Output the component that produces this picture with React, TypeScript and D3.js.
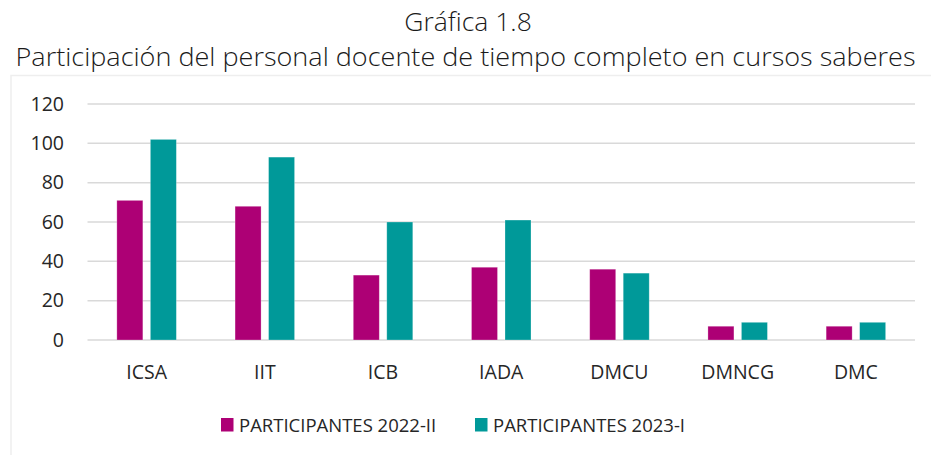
import React from "react";
import * as d3 from "d3";

const categories = ["ICSA", "IIT", "ICB", "IADA", "DMCU", "DMNCG", "DMC"];
const series2022 = [71, 68, 33, 37, 36, 7, 7];
const series2023 = [102, 93, 60, 61, 34, 9, 9];
const seriesNames = ["PARTICIPANTES 2022-II", "PARTICIPANTES 2023-I"];
const seriesColors = ["#AD0075", "#009999"];
const yTicks = [0, 20, 40, 60, 80, 100, 120];
const titleLines = ["Gráfica 1.8", "Participación del personal docente de tiempo completo en cursos saberes"];

const W = 931;
const H = 455;
const FONT = "'Open Sans', 'Noto Sans', sans-serif";

export default function App() {
  const left = 87.5;
  const right = 915;
  const top = 104;
  const bottom = 340;

  const x = d3.scaleBand<string>().domain(categories).range([left, right]).paddingInner(0).paddingOuter(0);
  const y = d3.scaleLinear().domain([0, 120]).range([bottom, top]);
  const barW = 26;
  const gap = 7.5;
  const all = [series2022, series2023];

  return (
    <svg width={W} height={H} style={{ position: "absolute", left: 0, top: 0, background: "#fff" }}>
      <rect x={0} y={0} width={W} height={H} fill="#fff" />
      <text x={468} y={31} textAnchor="middle" fontFamily={FONT} fontWeight={300} fontSize={26.5} fill="#1a1a1a">
        {titleLines[0]}
      </text>
      <text
        x={465.5}
        y={66}
        textAnchor="middle"
        fontFamily={FONT}
        fontWeight={300}
        fontSize={26.5}
        fill="#1a1a1a"
        textLength={900}
        lengthAdjust="spacingAndGlyphs"
      >
        {titleLines[1]}
      </text>
      <rect x={11} y={75.5} width={W + 10} height={H} fill="none" stroke="#eeeeee" strokeWidth={1.5} />
      {yTicks.map((t) => (
        <g key={t}>
          <line x1={left} x2={right} y1={y(t)} y2={y(t)} stroke="#d9d9d9" strokeWidth={1.5} />
          <text x={64} y={y(t)} dy="0.35em" textAnchor="end" fontFamily={FONT} fontSize={19.5} fill="#262626">
            {t}
          </text>
        </g>
      ))}
      {categories.map((c, i) => {
        const cx = (x(c) as number) + x.bandwidth() / 2;
        return (
          <g key={c}>
            {all.map((s, k) => {
              const bx = k === 0 ? cx - gap / 2 - barW : cx + gap / 2;
              return (
                <rect
                  key={k}
                  x={bx}
                  y={y(s[i])}
                  width={barW}
                  height={y(0) - y(s[i])}
                  fill={seriesColors[k]}
                  stroke="#ffffff"
                  strokeOpacity={0.35}
                  strokeWidth={0.75}
                />
              );
            })}
            <text x={cx} y={379} textAnchor="middle" fontFamily={FONT} fontSize={19.5} fill="#262626">
              {c}
            </text>
          </g>
        );
      })}
      {seriesNames.map((n, k) => {
        const lx = k === 0 ? 221 : 475;
        return (
          <g key={n}>
            <rect x={lx} y={418} width={12.5} height={13.5} fill={seriesColors[k]} />
            <text x={lx + 18} y={432} fontFamily={FONT} fontSize={18.5} fill="#262626">
              {n}
            </text>
          </g>
        );
      })}
    </svg>
  );
}
